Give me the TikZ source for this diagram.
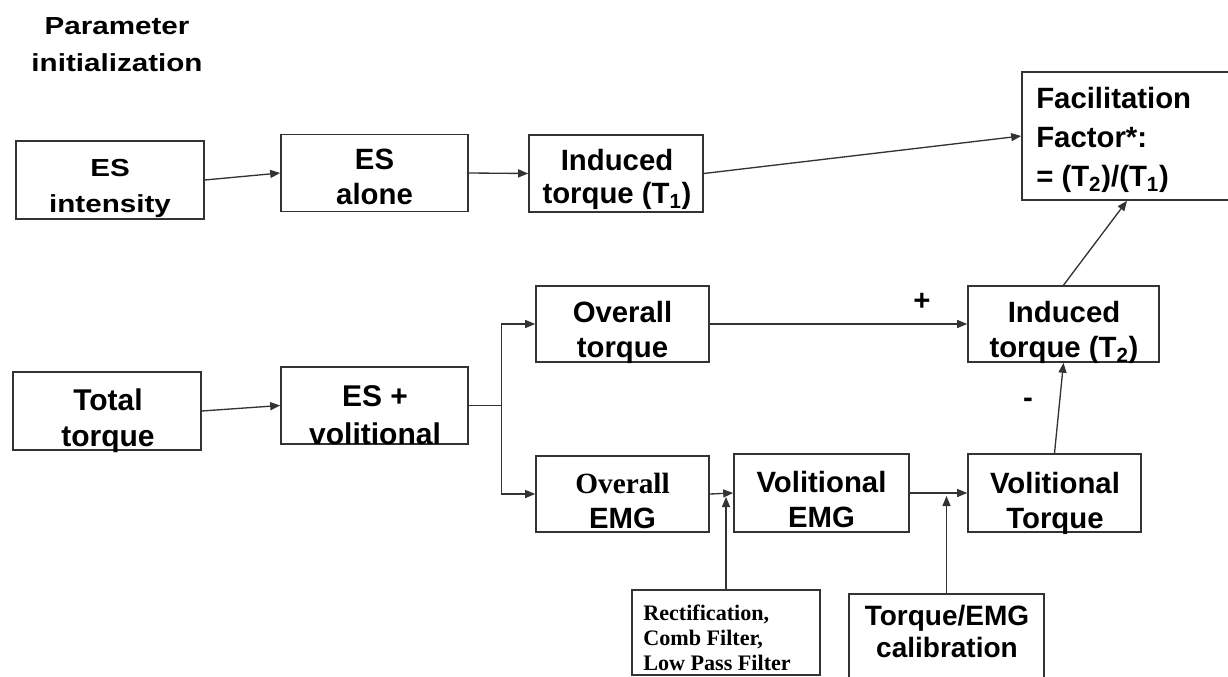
\documentclass[tikz,border=0pt]{standalone}
\usepackage{graphicx}
\usepackage{fontspec}
\setmainfont{Liberation Sans}
\newfontfamily\serifbf{Liberation Serif}
\usetikzlibrary{arrows.meta,calc}
\newcommand{\stretchtxt}[1]{\scalebox{1.2}[1]{#1}}
\begin{document}
\begin{tikzpicture}[x=0.75pt,y=-0.75pt,
  box/.style={draw=black!80, line width=1.2pt, inner sep=0pt},
  sz/.style 2 args={minimum width=#1*0.75pt, minimum height=#2*0.75pt},
  txt/.style={inner sep=0pt, anchor=base, align=center, font=\bfseries\fontsize{22}{26.25}\selectfont},
  wtxt/.style={txt, font=\bfseries\fontsize{18.5}{27}\selectfont},
  ser/.style={inner sep=0pt, anchor=base west, align=left, font=\bfseries\serifbf\fontsize{16.6}{18.75}\selectfont},
  conn/.style={draw=black!80, line width=1pt},
  arr/.style={conn, -{Triangle[length=7.5pt,width=6pt]}},
  sign/.style={inner sep=0pt, font=\bfseries\fontsize{22}{24}\selectfont}
]
\useasboundingbox (0,0) rectangle (1228,677);

\node[wtxt, font=\bfseries\fontsize{18.5}{27.75}\selectfont] (title) at (117,72) {\stretchtxt{Parameter}\\\stretchtxt{initialization}};

% row 1
\node[box, sz={188}{78}] (esint) at (110,180) {};
\node[wtxt] (esint-t) at (110,213) {\stretchtxt{ES}\\\stretchtxt{intensity}};
\node[box, sz={187}{77}] (esalone) at (374.5,173) {};
\node[txt] (esalone-t) at (374.5,205) {ES\\alone};
\node[box, sz={174}{77}] (indt1) at (616,173.5) {};
\node[txt, font=\bfseries\fontsize{22}{24.75}\selectfont] (indt1-t) at (617,204) {Induced\\torque (T\textsubscript{1})};
\node[box, sz={210}{128}] (fac) at (1127,136) {};
\node[txt, anchor=base west, align=left, font=\bfseries\fontsize{22}{29.6}\selectfont] (fac-t) at (1036,187) {Facilitation\\Factor*:\\= (T\textsubscript{2})/(T\textsubscript{1})};

% row 2
\node[box, sz={188}{78}] (total) at (107,411) {};
\node[txt, font=\bfseries\fontsize{22.5}{27}\selectfont] (total-t) at (108,446) {Total\\torque};
\node[box, sz={187}{77}] (esvol) at (374.5,405.5) {};
\node[txt, font=\bfseries\fontsize{22.5}{28.5}\selectfont] (esvol-t) at (375,444) {ES +\\volitional};
\node[box, sz={173}{76}] (ovtorque) at (622.5,324) {};
\node[txt] (ovtorque-t) at (622.5,358) {Overall\\torque};
\node[box, sz={191}{76}] (indt2) at (1063.5,324) {};
\node[txt] (indt2-t) at (1064,358) {Induced\\torque (T\textsubscript{2})};

% row 3
\node[box, sz={173}{76}] (ovemg) at (622.5,494) {};
\node[txt] (ovemg-t) at (622.5,528) {{\serifbf Overall}\\EMG};
\node[box, sz={175}{78}] (volemg) at (821.5,493) {};
\node[txt] (volemg-t) at (821.5,527) {Volitional\\EMG};
\node[box, sz={173}{78}] (voltorque) at (1054.5,493) {};
\node[txt] (voltorque-t) at (1055,528) {Volitional\\Torque};

% bottom
\node[box, sz={188}{85}] (filter) at (726,632.5) {};
\node[ser] (filter-t) at (643,670) {Rectification,\\Comb Filter,\\Low Pass Filter};
\node[box, sz={195}{100}] (calib) at (946.5,644) {};
\node[txt, font=\bfseries\fontsize{21}{24}\selectfont] (calib-t) at (947,657) {Torque/EMG\\calibration};

\node[sign] (plus) at (922,302) {+};
\node[sign] (minus) at (1028,403) {-};

% connectors
\draw[arr] (esint.east) -- (esalone.west);
\draw[arr] (esalone.east) -- (indt1.west);
\draw[arr] (indt1.east) -- (fac.west);
\draw[arr] (total.east) -- (esvol.west);
\coordinate (br) at ($(esvol.east)+(33,0)$);
\draw[conn] (esvol.east) -- (br);
\draw[arr] (br) |- (ovtorque.west);
\draw[arr] (br) |- (ovemg.west);
\draw[arr] (ovtorque.east) -- (indt2.west);
\draw[arr] (ovemg.east) -- (volemg.west);
\draw[arr] (volemg.east) -- (voltorque.west);
\draw[arr] (voltorque.north) -- (indt2.south);
\draw[arr] (indt2.north) -- (fac.south);
\coordinate (ft) at ($(filter.north |- ovemg.east)+(0,3)$);
\draw[arr] (filter.north) -- (ft);
\coordinate (ct) at ($(calib.north |- volemg.east)+(0,3)$);
\draw[arr] (calib.north) -- (ct);
\end{tikzpicture}
\end{document}
